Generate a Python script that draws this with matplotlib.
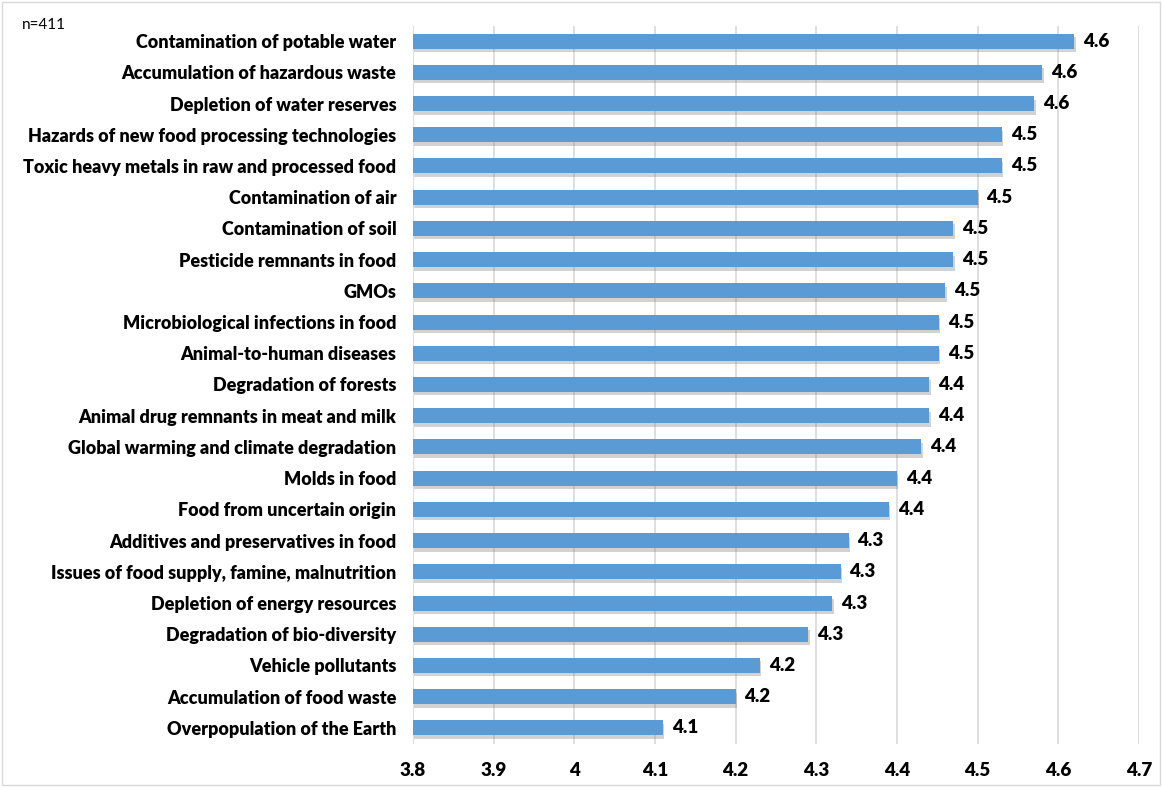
import matplotlib
matplotlib.use("Agg")
import matplotlib.pyplot as plt
import matplotlib.patheffects as pe
from matplotlib.patches import Rectangle

# Mean concern scores, top to bottom as shown
categories = [
    "Contamination of potable water",
    "Accumulation of hazardous waste",
    "Depletion of water reserves",
    "Hazards of new food processing technologies",
    "Toxic heavy metals in raw and processed food",
    "Contamination of air",
    "Contamination of soil",
    "Pesticide remnants in food",
    "GMOs",
    "Microbiological infections in food",
    "Animal-to-human diseases",
    "Degradation of forests",
    "Animal drug remnants in meat and milk",
    "Global warming and climate degradation",
    "Molds in food",
    "Food from uncertain origin",
    "Additives and preservatives in food",
    "Issues of food supply, famine, malnutrition",
    "Depletion of energy resources",
    "Degradation of bio-diversity",
    "Vehicle pollutants",
    "Accumulation of food waste",
    "Overpopulation of the Earth",
]
values = [4.62, 4.58, 4.57, 4.53, 4.53, 4.50, 4.47, 4.47, 4.46, 4.452, 4.452,
          4.44, 4.44, 4.43, 4.40, 4.39, 4.34, 4.33, 4.32, 4.29, 4.23, 4.20, 4.11]
xticks = [3.8, 3.9, 4.0, 4.1, 4.2, 4.3, 4.4, 4.5, 4.6, 4.7]
xtick_labels = ["3.8", "3.9", "4", "4.1", "4.2", "4.3", "4.4", "4.5", "4.6", "4.7"]
sample_note = "n=411"

plt.rcParams['font.family'] = ['Lato', 'DejaVu Sans']

W, H = 1162, 787
fig = plt.figure(figsize=(W / 100, H / 100), dpi=100)
ax = fig.add_axes([413 / W, 1 - 743.5 / H, (1139 - 413) / W, (743.5 - 25.5) / H])

ypos = list(range(len(categories)))
bars = ax.barh(ypos, [v - 3.8 for v in values], left=3.8, height=0.48,
               color='#5b9bd5', edgecolor='none', zorder=3)
for b in bars:
    b.set_path_effects([pe.SimplePatchShadow(offset=(1, -2.5), shadow_rgbFace='#808080', alpha=0.35),
                        pe.Normal()])

for y, v in zip(ypos, values):
    ax.text(v + 0.011, y, "%.1f" % v, va='center', ha='left',
            fontsize=13.5, fontweight='heavy', color='black')

ax.set_xlim(3.8, 4.7)
ax.set_ylim(len(categories) - 0.5, -0.5)
ax.set_yticks(ypos)
ax.set_yticklabels(categories, fontsize=13, fontweight='heavy')
ax.set_xticks(xticks)
ax.set_xticklabels(xtick_labels, fontsize=13.5, fontweight='heavy')
ax.tick_params(axis='both', length=0)
ax.tick_params(axis='y', pad=12)
ax.tick_params(axis='x', pad=13)
ax.xaxis.grid(True, color='#d9d9d9', linewidth=1.2, zorder=0)
ax.set_axisbelow(True)
for s in ax.spines.values():
    s.set_visible(False)

fig.text(22 / W, 1 - 25 / H, sample_note, fontsize=11, va='center', ha='left')
fig.patches.append(Rectangle((0.002, 0.002), 0.996, 0.996, transform=fig.transFigure,
                             fill=False, edgecolor='#d9d9d9', linewidth=1))

fig.savefig("out.png", dpi=100)
